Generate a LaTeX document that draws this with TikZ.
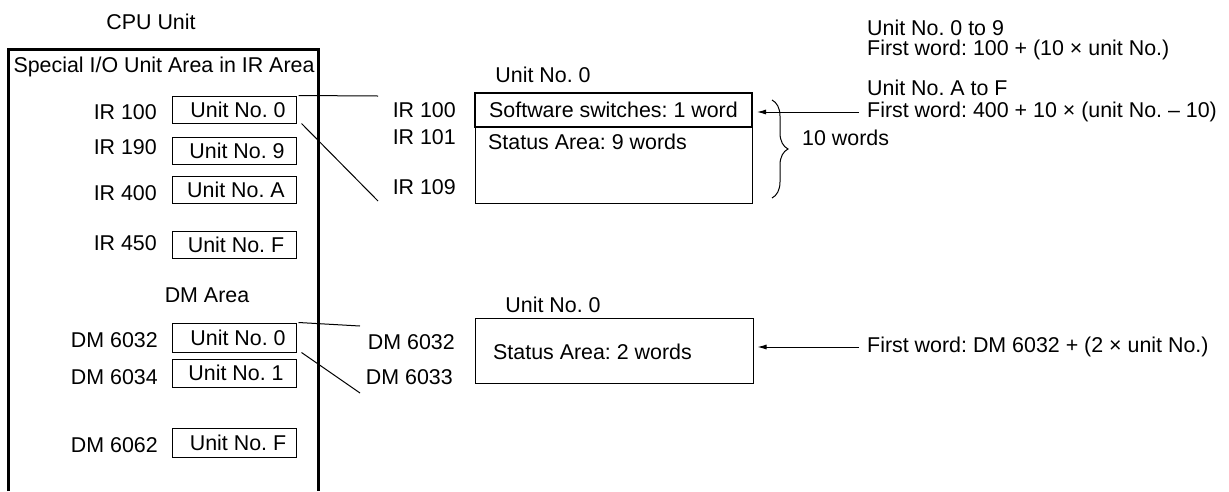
\documentclass[tikz,border=0pt]{standalone}
\usepackage{fontspec}
\setmainfont{Liberation Sans}
\usetikzlibrary{arrows.meta,positioning,decorations.pathreplacing}
\frenchspacing
\tikzset{
  lbl/.style={inner sep=2pt},
  ubox/.style={draw,line width=1pt,minimum width=124pt,minimum height=27pt,inner sep=0pt},
  cell/.style={draw,line width=1pt,inner sep=0pt},
  frame/.style={line width=3pt},
  link/.style={line width=1pt},
  arr/.style={-{Latex[length=9pt,width=5pt]},line width=1pt,shorten <=6pt,shorten >=4pt},
  brc/.style={decorate,decoration={brace,amplitude=16pt},line width=1pt},
}
\begin{document}
\begin{tikzpicture}[x=1pt,y=-1pt,font=\fontsize{21.4}{24}\selectfont]
  \useasboundingbox (0,0) rectangle (1229,491);
  % CPU Unit
  \node[lbl] (cpu) at (151,22) {CPU Unit};
  \draw[frame] (8,491) -- (8,49) -- (318,49) -- (318,491);
  \node[lbl] (hdr) at (164,67) {Special I/O Unit Area in IR Area};
  \node[ubox] (ir0) at (234,109.5) {\hspace{8pt}Unit No. 0};
  \node[ubox] (ir9) at (234,150.5) {\hspace{6pt}Unit No. 9};
  \node[ubox] (irA) at (234,189.5) {\hspace{4pt}Unit No. A};
  \node[ubox] (irF) at (234,244.5) {\hspace{4pt}Unit No. F};
  \node[lbl,anchor=east] (lir0) at (159,112) {IR 100};
  \node[lbl,anchor=east] (lir9) at (159,147) {IR 190};
  \node[lbl,anchor=east] (lirA) at (159,193) {IR 400};
  \node[lbl,anchor=east] (lirF) at (159,243) {IR 450};
  \node[lbl] (dma) at (207,295) {DM Area};
  \node[ubox,minimum height=29pt] (dm0) at (234,337.5) {\hspace{8pt}Unit No. 0};
  \node[ubox,minimum height=28pt] (dm1) at (234,373) {\hspace{4pt}Unit No. 1};
  \node[ubox,minimum height=29pt] (dmF) at (234,442.5) {\hspace{8pt}Unit No. F};
  \node[lbl,anchor=east] (ldm0) at (160,340) {DM 6032};
  \node[lbl,anchor=east] (ldm1) at (160,377) {DM 6034};
  \node[lbl,anchor=east] (ldmF) at (160,445) {DM 6062};

  % IR words of unit 0
  \coordinate (irtop) at (378,96); \coordinate (irbot) at (378,201);
  \draw[link] ([xshift=2pt]ir0.north east) -- (irtop);
  \draw[link] ([xshift=5pt]ir0.south east) -- (irbot);
  \node[lbl] (irt) at (543,75) {Unit No. 0};
  \node[lbl,anchor=east] (w100) at (458,110) {IR 100};
  \node[lbl,anchor=east] (w101) at (458,137) {IR 101};
  \node[lbl,anchor=east] (w109) at (458,187) {IR 109};
  \node[cell,minimum width=277pt,minimum height=110pt] (st) at (613.5,148) {};
  \node[cell,line width=2pt,minimum width=277pt,minimum height=34pt] (sw) at (613.5,110) {Software switches: 1 word};
  \node[lbl,anchor=west] (stt) at (486,142) {Status Area: 9 words};
  \draw[brc] (772,100) -- (772,198);
  \node[lbl,anchor=west] (ten) at (800,138) {10 words};
  \node[lbl,anchor=west] (f1a) at (865,28) {Unit No. 0 to 9};
  \node[lbl,anchor=west] (f1b) at (865,50) {First word: 100 + (10 × unit No.)};
  \node[lbl,anchor=west] (f2a) at (865,88) {Unit No. A to F};
  \node[lbl,anchor=west] (f2b) at (865,112) {First word: 400 + 10 × (unit No. – 10)};
  \draw[arr] (f2b.west) -- (sw.east |- f2b.west);

  % DM words of unit 0
  \coordinate (dmtop) at (360,326); \coordinate (dmbot) at (360,393);
  \draw[link] ([xshift=2pt]dm0.north east) -- (dmtop);
  \draw[link] ([xshift=5pt]dm0.south east) -- (dmbot);
  \node[lbl] (dmt) at (553,305) {Unit No. 0};
  \node[lbl,anchor=east] (w6032) at (457,342) {DM 6032};
  \node[lbl,anchor=east] (w6033) at (455,377) {DM 6033};
  \node[cell,minimum width=278pt,minimum height=65pt] (st2) at (614,350.5) {};
  \node[lbl,anchor=west] (st2t) at (491,352) {Status Area: 2 words};
  \node[lbl,anchor=west] (f3) at (865,347) {First word: DM 6032 + (2 × unit No.)};
  \draw[arr] (f3.west) -- (st2.east |- f3.west);
\end{tikzpicture}
\end{document}
